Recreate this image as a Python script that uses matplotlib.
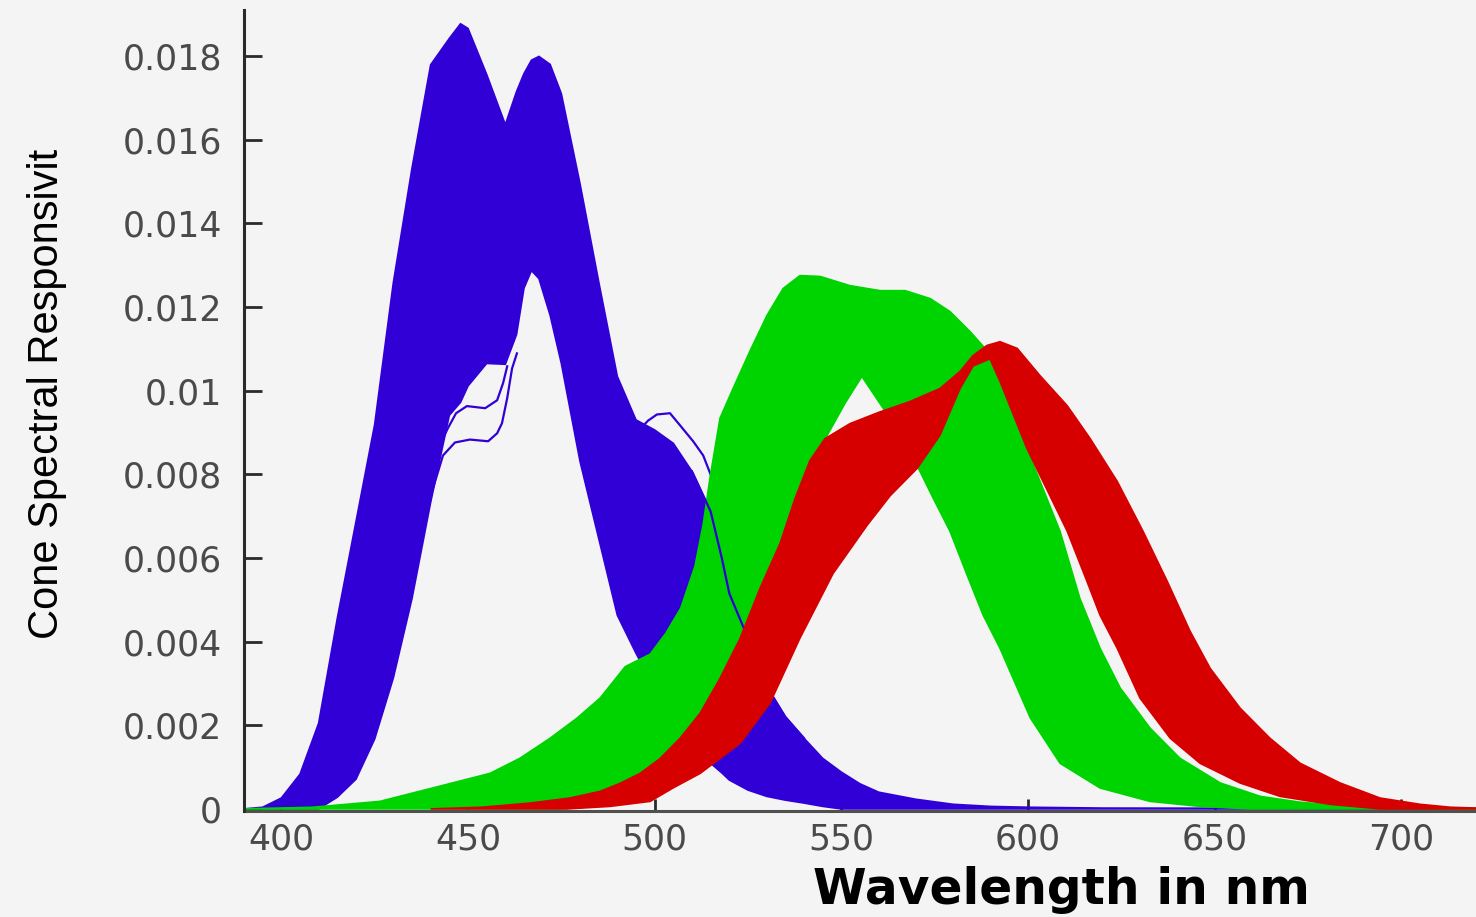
import matplotlib
matplotlib.use("Agg")
import matplotlib.pyplot as plt
import numpy as np

# S-cone (blue) band: upper and lower envelopes of the many curves
blue_wl = [390, 395, 400, 405, 410, 415, 420, 425, 430, 435, 440, 445, 448, 450, 455,
           460, 463, 465, 467, 469, 472, 475, 480, 485, 490, 495, 500, 505, 510, 515,
           518, 520, 525, 530, 535, 540, 545, 550, 555, 560, 570, 580, 590, 600, 620, 720]
blue_hi = [0, 0.00004, 0.00026, 0.00083, 0.00205, 0.00456, 0.00687, 0.00919, 0.01258,
           0.01532, 0.01779, 0.01842, 0.01877, 0.01866, 0.01756, 0.01636, 0.01715,
           0.01758, 0.0179, 0.01799, 0.01780, 0.0171, 0.01495, 0.01261, 0.01034, 0.0093,
           0.00906, 0.00874, 0.00807, 0.00711, 0.00599, 0.00515, 0.00408, 0.00293,
           0.0022, 0.00169, 0.00121, 0.00088, 0.0006, 0.0004, 0.00023, 0.00011,
           0.00006, 0.00004, 0.00002, 0.00001]
blue_lo = [0, 0, 0, 0, 0, 0.00028, 0.00071, 0.00167, 0.00313, 0.00503, 0.00733, 0.00941,
           0.00972, 0.01011, 0.01065, 0.01063, 0.01134, 0.01245, 0.01287, 0.01268, 0.0118,
           0.01065, 0.00831, 0.00647, 0.00463, 0.00372, 0.00289, 0.00217, 0.00157,
           0.00109, 0.00086, 0.00069, 0.00045, 0.0003, 0.00021, 0.00014, 0.00006, 0, 0,
           0, 0, 0, 0, 0, 0, 0]

# a few stray S-cone curves that stand out from the band
stray1_wl = [438, 440.6, 443.3, 446.5, 450.5, 455.4, 457.8, 459.1, 460.5, 461.8, 463.1]
stray1 = [0.0071, 0.00766, 0.00845, 0.00876, 0.00883, 0.00879, 0.00898, 0.00922,
          0.00982, 0.01053, 0.01089]
stray2_wl = [443, 444.6, 446.8, 449.7, 454.6, 457.8, 459.4, 460.5]
stray2 = [0.0088, 0.0091, 0.00946, 0.00963, 0.00958, 0.00977, 0.01018, 0.01058]
stray3_wl = [496.1, 498.2, 500.6, 504.1, 506.8, 510.3, 513.0, 515.4, 517.5, 519.7, 521.5]
stray3 = [0.00908, 0.00928, 0.00943, 0.00946, 0.00917, 0.00879, 0.00845, 0.0079,
          0.00719, 0.00635, 0.00551]
# S-cone curves drawn over the M-cone band on its rising side
over_wl = [510, 515, 518, 520, 525, 530, 535, 540]
over = [0.00807, 0.00711, 0.00599, 0.00515, 0.00408, 0.00293, 0.0022, 0.00169]

# M-cone (green) band
green_hi_wl = [390, 408.5, 426.4, 443.6, 455.9, 463.9, 472.0, 479.2, 485.4, 492.1, 498.8,
               503.0, 507.0, 510.8, 513.0, 514.8, 517.5, 521.0, 525.5, 530.1, 534.4,
               538.9, 544.3, 552.3, 560.4, 567.1, 573.8, 579.1, 584.5, 588.5, 592.5,
               599.7, 608.6, 613.9, 619.3, 624.7, 632.7, 640.7, 651.5, 662.2, 672.9,
               686.3, 705.0, 720]
green_hi = [0, 0.00004, 0.00018, 0.00057, 0.00085, 0.00121, 0.00169, 0.00217, 0.00265,
            0.0034, 0.0037, 0.0042, 0.0048, 0.0058, 0.0068, 0.0079, 0.00934, 0.01005,
            0.01094, 0.0118, 0.01244, 0.01275, 0.01273, 0.01251, 0.01239, 0.01239,
            0.0122, 0.01189, 0.01141, 0.01101, 0.01036, 0.00862, 0.00663, 0.00503,
            0.00384, 0.00289, 0.00193, 0.00121, 0.00062, 0.0003, 0.00016, 0.00006,
            0.00002, 0.00001]
green_lo_wl = [390, 474.7, 480, 490, 499, 505, 512, 523, 531, 536.3, 540.8, 546.2, 551.0,
               555.5, 561.2, 565.7, 570.3, 574.6, 579.1, 583.7, 588.0, 592.5, 600.6,
               608.6, 619.3, 632.7, 646.1, 659.5, 720]
green_lo = [0, 0, 0.00003, 0.0001, 0.00025, 0.0006, 0.001, 0.0019, 0.0036, 0.0055,
            0.00784, 0.00893, 0.0097, 0.01034, 0.00958, 0.00886, 0.00821, 0.00743,
            0.00664, 0.00559, 0.00463, 0.00384, 0.00218, 0.00109, 0.0005, 0.00018,
            0.00006, 0, 0]

# L-cone (red) band
red_hi_wl = [440, 453.8, 466.6, 477.3, 485.4, 490.7, 496.1, 501.4, 506.8, 512.2, 517.5,
             522.9, 528.2, 533.6, 537.6, 541.6, 545.6, 552.3, 560.0, 568.4, 576.4, 581.8,
             585.3, 589.0, 592.5, 597.1, 603.2, 610.5, 616.6, 623.9, 630.8, 637.3,
             643.4, 648.8, 656.8, 664.8, 672.9, 683.6, 694.3, 705.0, 713.1, 720]
red_hi = [0, 0.00004, 0.00014, 0.00026, 0.00042, 0.00061, 0.00085, 0.0012, 0.00169,
          0.00229, 0.00312, 0.00408, 0.00527, 0.00635, 0.00742, 0.00833, 0.00885,
          0.00921, 0.00948, 0.00974, 0.01005, 0.01046, 0.01084, 0.01108, 0.01117,
          0.01101, 0.01036, 0.00964, 0.00886, 0.00783, 0.00664, 0.00544, 0.00425,
          0.00336, 0.00241, 0.00169, 0.00109, 0.00062, 0.00026, 0.00011, 0.00004,
          0.00002]
red_lo_wl = [440, 476.5, 488.0, 498.8, 504.9, 512.2, 522.9, 530.9, 538.9, 547.8, 556.9,
             563.1, 570.3, 576.4, 581.8, 585.3, 589.8, 592.5, 599.7, 610.5, 615.8, 619.3,
             623.9, 630.0, 638.1, 646.1, 656.8, 667.5, 680.9, 694.3, 720]
red_lo = [0, 0, 0.00006, 0.00018, 0.0005, 0.00085, 0.00157, 0.00253, 0.00408, 0.00563,
          0.00678, 0.00749, 0.00814, 0.00893, 0.01005, 0.01059, 0.01076, 0.01022,
          0.00862, 0.00664, 0.00544, 0.00463, 0.00384, 0.00265, 0.00169, 0.00109,
          0.00062, 0.0003, 0.00011, 0, 0]

x_ticks = [400, 450, 500, 550, 600, 650, 700]
y_ticks = [0, 0.002, 0.004, 0.006, 0.008, 0.01, 0.012, 0.014, 0.016, 0.018]
y_tick_labels = ["0", "0.002", "0.004", "0.006", "0.008", "0.01", "0.012", "0.014",
                 "0.016", "0.018"]

BG = "#f4f4f4"
BLUE = "#3000d6"
GREEN = "#00d400"
RED = "#d60000"


def band(ax, wl_hi, hi, wl_lo, lo, color, z):
    xs = np.concatenate([wl_hi, wl_lo[::-1]])
    ys = np.concatenate([hi, lo[::-1]])
    ax.fill(xs, ys, color=color, lw=1.2, ec=color, zorder=z)


fig = plt.figure(figsize=(14.76, 9.17), dpi=100, facecolor=BG)
ax = fig.add_axes([244 / 1476, 106 / 917, 1232 / 1476, 801 / 917])
ax.set_facecolor(BG)

band(ax, blue_wl, blue_hi, blue_wl, blue_lo, BLUE, 2)
for wl, v in [(stray1_wl, stray1), (stray2_wl, stray2), (stray3_wl, stray3)]:
    ax.plot(wl, v, color=BLUE, lw=1.6, zorder=2.5)
band(ax, green_hi_wl, green_hi, green_lo_wl, green_lo, GREEN, 3)
ax.plot(over_wl, over, color=BLUE, lw=1.6, zorder=3.5)
band(ax, red_hi_wl, red_hi, red_lo_wl, red_lo, RED, 4)

ax.set_xlim(390, 720)
ax.set_ylim(-0.00005, 0.0191)

for s in ["top", "right"]:
    ax.spines[s].set_visible(False)
ax.spines["left"].set_color("#2a2a2a")
ax.spines["left"].set_linewidth(2.2)
ax.spines["bottom"].set_color("#505050")
ax.spines["bottom"].set_linewidth(2.2)
ax.spines["left"].set_zorder(6)

ax.set_xticks(x_ticks)
ax.set_xticklabels([str(t) for t in x_ticks])
ax.set_yticks(y_ticks)
ax.set_yticklabels(y_tick_labels)
ax.tick_params(axis="y", direction="in", length=13, width=2, color="#2a2a2a",
               pad=16, labelsize=25, labelcolor="#4a4a4a")
ax.tick_params(axis="x", direction="in", length=8.5, width=2, color="#2a2a2a",
               pad=8, labelsize=25, labelcolor="#4a4a4a")

fig.text(47 / 1476, 1 - 394 / 917, "Cone Spectral Responsivit", rotation=90,
         ha="center", va="center", fontsize=30, color="black",
         family=["Liberation Sans Narrow", "Liberation Sans", "DejaVu Sans"])
fig.text(1061 / 1476, 1 - 890 / 917, "Wavelength in nm", ha="center", va="center",
         fontsize=35, fontweight="bold", color="black")

fig.savefig("out.png", dpi=100, facecolor=BG)
